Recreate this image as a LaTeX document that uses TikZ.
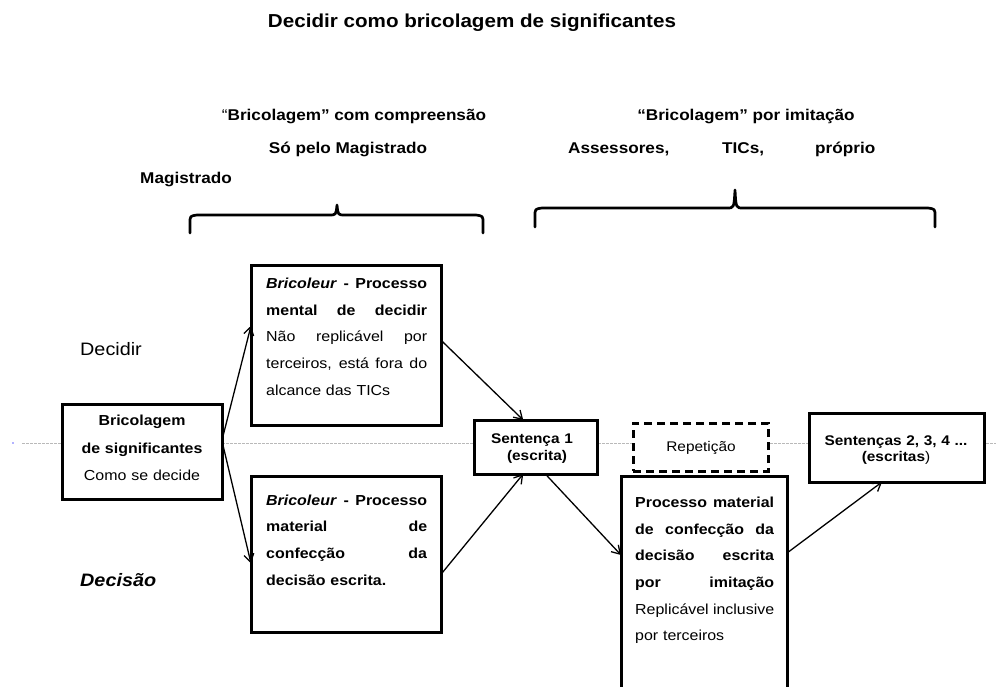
\documentclass[tikz,border=0pt]{standalone}
\usepackage{fontspec}
\setmainfont{Liberation Sans}[FakeStretch=1.1]
\usetikzlibrary{arrows.meta,calc}

% font size helper: size and baseline skip in pt
\newcommand{\setsz}[2]{\fontsize{#1}{#2}\selectfont}
% a fully justified line of given width (spaces stretch to fill it)
\newcommand{\jline}[2]{\makebox[#1][s]{\spaceskip=0pt\xspaceskip=0pt #2}}

\tikzset{
  frame/.style={draw=black, line width=3pt, fill=white, inner sep=0pt, outer sep=0pt},
  dashframe/.style={frame, dash pattern=on 8pt off 5pt},
  link/.style={line width=1.3pt, -{Straight Barb[length=8pt,width=10pt]}},
  curlyline/.style={line width=2.7pt, line cap=round, line join=round},
  guide/.style={draw=gray!55, line width=0.7pt, dash pattern=on 2.5pt off 1.5pt},
  boxtext/.style={inner sep=0pt, font=\setsz{14.5}{26.7}, align=left},
  headtext/.style={inner sep=0pt, font=\setsz{15.6}{18}\bfseries, anchor=base},
}

\begin{document}
\begin{tikzpicture}[x=1pt,y=-1pt]
\useasboundingbox (0,0) rectangle (996,686);
\clip (0,0) rectangle (996,686);

% title and upper labels
\node[inner sep=0pt, anchor=base, font=\setsz{18.75}{20}\bfseries] (title) at (472,27)
  {Decidir como bricolagem de significantes};
\node[headtext] (h1) at (354,120.7) {{\mdseries “}Bricolagem” com compreensão};
\node[headtext] (h2) at (348,153.3) {Só pelo Magistrado};
\node[headtext] (h3) at (186,183.3) {Magistrado};
\node[headtext] (h4) at (746,120.7) {“Bricolagem” por imitação};
\node[headtext, anchor=base west] (h5) at (568,153.3) {Assessores,};
\node[headtext, anchor=base west] (h6) at (722,153.3) {TICs,};
\node[headtext, anchor=base west] (h7) at (815,153.3) {próprio};

% curly brackets
\draw[curlyline] (190,233) -- (190,223) .. controls (190,216) .. (197,215)
  -- (329,215) .. controls (336,215) .. (337,205)
  .. controls (338,215) .. (345,215) -- (476,215)
  .. controls (483,216) .. (483,223) -- (483,233);
\draw[curlyline] (535,227) -- (535,216) .. controls (535,209) .. (542,208)
  -- (727,208) .. controls (734,208) .. (735,190)
  .. controls (736,208) .. (743,208) -- (928,208)
  .. controls (935,209) .. (935,216) -- (935,227);

% row labels
\node[inner sep=0pt, anchor=base west, font=\setsz{18}{20}] (lDecidir) at (80,355) {Decidir};
\node[inner sep=0pt, anchor=base west, font=\setsz{18}{20}\bfseries\itshape] (lDecisao) at (80,586) {Decisão};

% horizontal guide
\fill[blue!60] (13,443) circle (0.8pt);
\draw[guide] (22,443) -- (996,443);

% boxes
\node[frame, minimum width=160pt, minimum height=95pt] (A) at (142,451.5) {};
\node[frame, minimum width=190pt, minimum height=160pt] (B) at (346,345) {};
\node[frame, minimum width=190pt, minimum height=156pt] (C) at (346,554) {};
\node[frame, minimum width=123pt, minimum height=54pt] (D) at (535.5,447) {};
\node[dashframe, minimum width=135pt, minimum height=48pt] (E) at (700.5,447) {};
\node[frame, minimum width=166pt, minimum height=244pt] (F) at (704,598) {};
\node[frame, minimum width=175pt, minimum height=69pt] (G) at (896.5,447.5) {};

% box texts
\node[boxtext, align=center, text width=160pt, font=\setsz{14.5}{27.5}, anchor=base] (tA) at (142,425.7)
  {\textbf{Bricolagem}\\\textbf{de significantes}\\Como se decide};
\node[boxtext, text width=161pt, anchor=base west] (tB) at (266,288.3)
  {\jline{161pt}{\textbf{\textit{Bricoleur} -} \textbf{Processo}}\\
   \jline{161pt}{\textbf{mental de decidir}}\\
   \jline{161pt}{Não replicável por}\\
   \jline{161pt}{terceiros, está fora do}\\
   alcance das TICs};
\node[boxtext, text width=161pt, anchor=base west] (tC) at (266,505)
  {\jline{161pt}{\textbf{\textit{Bricoleur} -} \textbf{Processo}}\\
   \jline{161pt}{\textbf{material de}}\\
   \jline{161pt}{\textbf{confecção da}}\\
   \textbf{decisão escrita.}};
\node[boxtext, align=center, text width=123pt, font=\setsz{14}{16.7}\bfseries, anchor=base] (tD) at (532,443.3)
  {Sentença 1\\\hspace*{10pt}(escrita)};
\node[boxtext, align=center, text width=135pt, font=\setsz{14}{16}, anchor=base] (tE) at (701,451.7) {Repetição};
\node[boxtext, text width=139pt, anchor=base west] (tF) at (635,507.3)
  {\jline{139pt}{\textbf{Processo material}}\\
   \jline{139pt}{\textbf{de confecção da}}\\
   \jline{139pt}{\textbf{decisão escrita}}\\
   \jline{139pt}{\textbf{por imitação}}\\
   \jline{139pt}{Replicável inclusive}\\
   por terceiros};
\node[boxtext, align=center, text width=175pt, font=\setsz{14}{16.7}, anchor=base] (tG) at (896,445)
  {\textbf{Sentenças 2, 3, 4 ...}\\\textbf{(escritas})\hspace*{14pt}};

% connectors
\draw[link] ($(A.north east)!0.38!(A.south east)$) -- ($(B.north west)!0.38!(B.south west)$);
\draw[link] ($(A.north east)!0.39!(A.south east)$) -- ($(C.north west)!0.56!(C.south west)$);
\draw[link] ($(B.north east)!0.47!(B.south east)$) -- ($(D.north west)!0.4!(D.north east)$);
\draw[link] ($(C.north east)!0.63!(C.south east)$) -- ($(D.south west)!0.4!(D.south east)$);
\draw[link] ($(D.south west)!0.58!(D.south east)$) -- ($(F.north west)+(0,79)$);
\draw[link] ($(F.north east)+(0,77)$) -- ($(G.south west)+(73,0)$);
\end{tikzpicture}
\end{document}
